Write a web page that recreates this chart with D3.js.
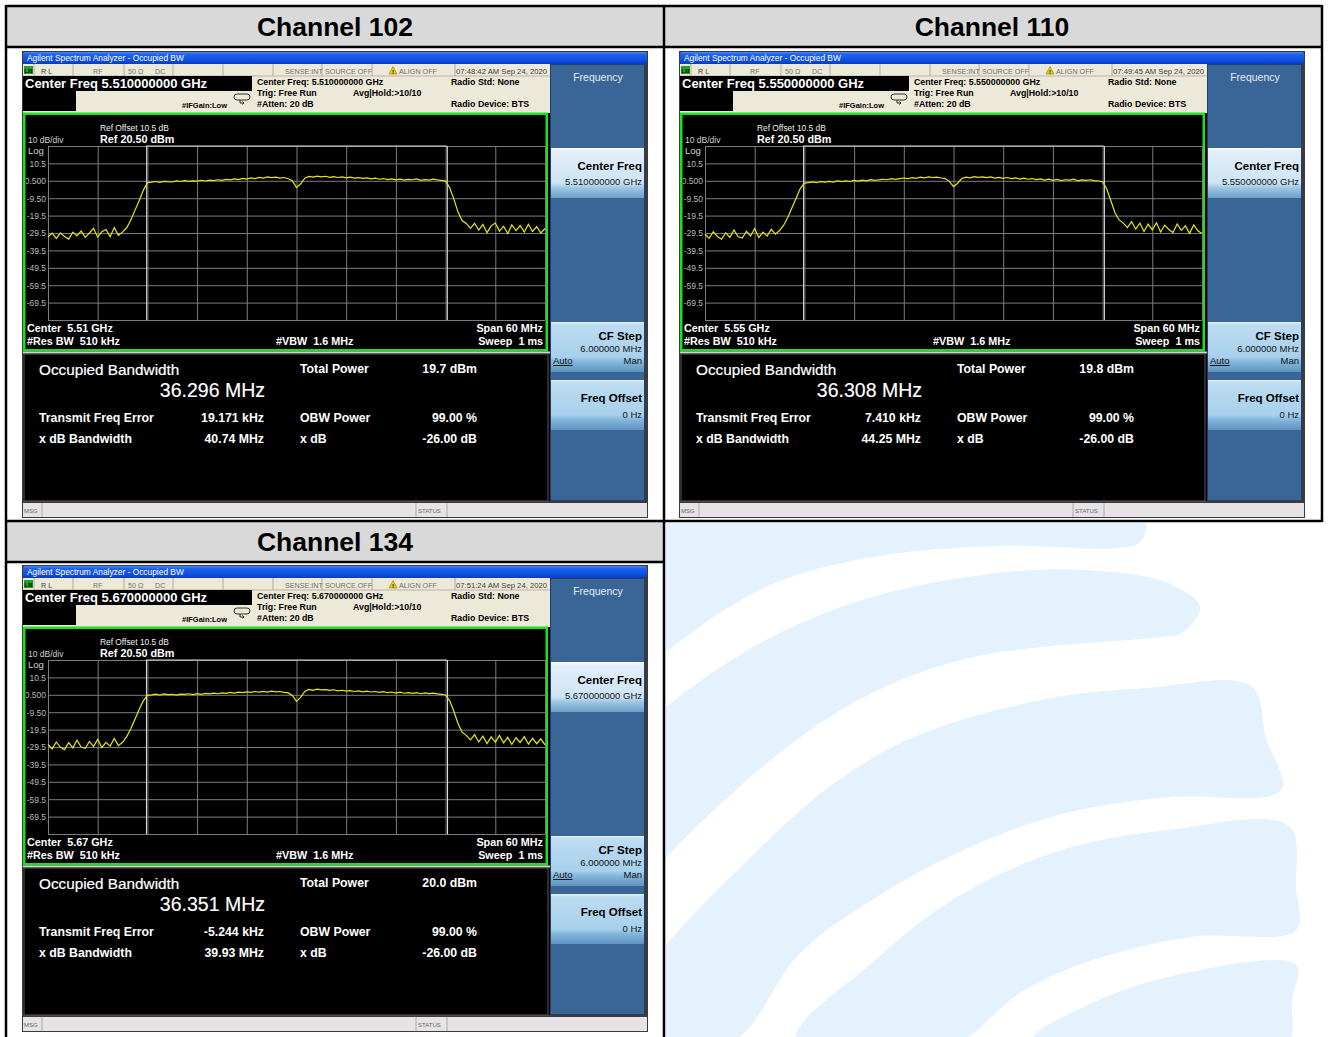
<!DOCTYPE html>
<html>
<head>
<meta charset="utf-8">
<script src="https://cdn.jsdelivr.net/npm/d3@7"></script>
<style>
  body { margin: 0; background: #fff; }
  svg text { font-family: "Liberation Sans", Arial, sans-serif; white-space: pre; }
</style>
</head>
<body>
<div id="page"></div>
<script>
// ---- values ----
const channelTitles = ["Channel 102", "Channel 110", "Channel 134"];
const centerFreqLong = ["5.510000000 GHz", "5.550000000 GHz", "5.670000000 GHz"];
const centerFreqShort = ["5.51 GHz", "5.55 GHz", "5.67 GHz"];
const timestamps = ["07:48:42 AM Sep 24, 2020", "07:49:45 AM Sep 24, 2020", "07:51:24 AM Sep 24, 2020"];
const occupiedBw = ["36.296 MHz", "36.308 MHz", "36.351 MHz"];
const obwMHz = [36.296, 36.308, 36.351];
const totalPower = ["19.7 dBm", "19.8 dBm", "20.0 dBm"];
const freqError = ["19.171 kHz", "7.410 kHz", "-5.244 kHz"];
const xdbBandwidth = ["40.74 MHz", "44.25 MHz", "39.93 MHz"];
const obwPower = ["99.00 %", "99.00 %", "99.00 %"];
const xdB = ["-26.00 dB", "-26.00 dB", "-26.00 dB"];

// y axis: ref 20.5 dBm, 10 dB/div
const refLevel = 20.5;
const yLabelValues = [10.5, 0.5, -9.5, -19.5, -29.5, -39.5, -49.5, -59.5, -69.5];
const yLabelText = ["10.5", "0.500", "-9.50", "-19.5", "-29.5", "-39.5", "-49.5", "-59.5", "-69.5"];

// sweep points: offset from center, -30..+30 MHz every 0.5 MHz
const sweepMHz = d3.range(-30, 30.001, 0.5);

const trace102 = [
  -31.8,-29.6,-32.6,-29.4,-31.5,-33.0,-29.0,-31.2,-28.4,-32.0,-29.5,-26.8,-31.9,-28.7,-27.5,-31.6,-26.4,-30.8,
  -29.0,-26.5,-22.0,-16.5,-11.0,-5.0,-0.6,
  -0.3,0.1,-0.4,0.2,0.0,-0.2,0.4,0.1,0.6,0.2,0.5,0.3,0.8,0.4,0.9,0.6,1.1,0.7,1.3,1.0,1.6,1.2,1.9,1.5,
  2.2,1.8,2.5,2.1,2.7,2.3,2.6,2.0,2.4,1.7,
  0.6,-3.4,-1.2,2.0,
  3.0,2.6,3.2,2.8,3.1,2.5,2.9,2.4,2.7,2.2,2.6,2.0,2.3,1.9,2.2,1.6,2.0,
  1.4,1.8,1.2,1.6,1.0,1.5,0.9,1.3,1.1,1.6,0.8,1.2,0.9,1.4,1.0,0.7,
  0.3,-3.5,-10.0,-17.5,-22.5,-24.0,
  -26.8,-23.9,-27.9,-24.6,-29.3,-25.4,-23.8,-28.4,-25.6,-29.8,-24.9,-28.1,-25.2,-29.0,-24.5,-28.6,-25.8,-29.5,-26.9
];
const trace110 = [
  -30.2,-32.6,-28.8,-31.5,-33.1,-29.3,-32.0,-27.8,-31.7,-32.4,-28.5,-31.2,-26.9,-32.1,-29.0,-31.3,-27.4,-30.2,
  -28.1,-25.0,-20.5,-15.0,-9.5,-4.0,-0.8,
  -0.5,-0.1,-0.6,0.0,-0.3,0.2,-0.2,0.4,0.0,0.5,0.1,0.7,0.3,0.9,0.5,1.2,0.8,1.0,1.4,1.1,1.7,1.3,1.8,2.1,
  1.7,2.3,1.9,2.6,2.2,2.8,2.4,2.6,2.1,1.8,
  0.2,-2.8,-0.9,1.8,
  2.6,2.2,2.9,2.5,2.8,2.3,2.7,2.1,2.5,1.9,2.4,1.8,2.2,1.5,2.0,1.4,1.8,
  1.2,1.6,0.9,1.4,0.8,1.3,0.6,1.1,0.9,1.4,0.5,1.0,0.7,1.1,0.6,0.4,
  0.0,-4.2,-11.0,-18.0,-22.0,-23.8,
  -26.4,-23.0,-27.3,-23.8,-28.6,-24.4,-27.7,-23.6,-28.9,-25.0,-27.5,-29.2,-24.3,-28.0,-25.4,-29.7,-24.9,-28.2,-29.8
];
const trace134 = [
  -28.0,-30.6,-26.6,-29.7,-31.0,-27.0,-30.0,-25.6,-29.5,-30.3,-26.3,-29.2,-25.1,-29.8,-26.8,-29.0,-24.6,-28.7,
  -26.8,-23.5,-19.0,-13.5,-8.0,-3.0,0.2,
  0.5,0.9,0.4,1.0,0.6,0.8,0.3,0.9,0.7,1.1,0.6,1.2,0.8,1.3,1.0,1.5,1.1,1.6,1.3,1.9,1.5,2.0,1.7,2.2,
  1.9,2.4,2.0,2.5,2.1,2.6,2.2,2.4,1.9,1.6,
  0.1,-3.3,-1.0,2.4,
  3.6,3.1,3.8,3.3,3.5,3.0,3.4,2.8,3.1,2.6,2.9,2.4,2.8,2.2,2.6,2.1,2.4,
  1.9,2.3,1.7,2.1,1.5,2.0,1.4,1.8,1.3,1.7,1.1,1.6,1.2,1.5,1.0,0.8,
  0.4,-3.0,-9.0,-16.0,-21.0,-22.8,
  -25.4,-22.4,-26.6,-23.3,-27.5,-23.7,-26.7,-22.8,-27.1,-24.0,-28.0,-24.2,-26.9,-23.6,-27.8,-24.5,-27.6,-24.8,-28.3
];
const traces = [trace102, trace110, trace134];

// ---- page ----
const W = 1328, H = 1037;
const svg = d3.select("#page").append("svg").attr("width", W).attr("height", H);
const defs = svg.append("defs");

function vGrad(id, stops) {
  const lg = defs.append("linearGradient").attr("id", id)
    .attr("x1", 0).attr("y1", 0).attr("x2", 0).attr("y2", 1);
  stops.forEach(([o, c]) => lg.append("stop").attr("offset", o).attr("stop-color", c));
}
vGrad("titleBar", [[0, "#4a88f7"], [0.2, "#1f62ef"], [0.8, "#0b4ad8"], [1, "#083cb0"]]);
vGrad("keyOn", [[0, "#ffffff"], [0.06, "#e2eff9"], [0.7, "#cde4f4"], [0.8, "#9cc6e6"], [1, "#6f9ec6"]]);
vGrad("keyOff", [[0, "#e4f1fa"], [0.06, "#bcdcf1"], [0.7, "#a7d0ec"], [0.8, "#82b6dc"], [1, "#5f92bf"]]);

function txt(g, x, y, s, o = {}) {
  const t = g.append("text").attr("x", x).attr("y", y).text(s)
    .attr("font-size", o.size || 10)
    .attr("font-weight", o.bold ? "bold" : "normal")
    .attr("fill", o.fill || "#000")
    .attr("text-anchor", o.anchor || "start")
    .attr("text-decoration", o.underline ? "underline" : null);
  if (o.thick) t.attr("stroke", o.fill || "#000").attr("stroke-width", o.thick);
  return t;
}

// background watermark (bottom-right empty area)
defs.append("clipPath").attr("id", "wmClip").append("rect")
  .attr("x", 666).attr("y", 523).attr("width", W - 666).attr("height", H - 523);
const wm = svg.append("g").attr("clip-path", "url(#wmClip)").attr("fill", "#e3f2fc");
const band = d3.line().curve(d3.curveCatmullRomClosed.alpha(0.5));
const wmBands = [
  [[600,500],[1130,500],[1146,525],[1140,542],[1118,548],[999,546],[872,557],[766,587],[666,652],[600,715]],
  [[600,770],[666,707],[766,640],[872,597],[999,573],[1084,570],[1168,583],[1200,607],[1183,632],[1160,637],[1041,647],[957,661],[872,693],[787,747],[666,858],[600,940]],
  [[630,995],[666,945],[745,863],[829,787],[914,737],[1041,700],[1147,688],[1251,686],[1266,738],[1281,790],[1168,797],[1062,814],[957,853],[872,900],[800,953],[736,1040],[660,1060]],
  [[796,1040],[872,963],[957,897],[1062,850],[1168,830],[1289,826],[1296,887],[1296,930],[1190,937],[1084,963],[1020,993],[965,1040],[900,1080]],
  [[1033,1040],[1084,1007],[1168,977],[1296,965],[1292,1000],[1287,1045],[1150,1080]]
];
wmBands.forEach(b => wm.append("path").attr("d", band(b)));

// table
svg.append("rect").attr("x", 6).attr("y", 6).attr("width", 1316).attr("height", 41).attr("fill", "#d9d9d9");
svg.append("rect").attr("x", 6).attr("y", 521).attr("width", 658).attr("height", 41).attr("fill", "#d9d9d9");
const tableLines = [[6,6,1322,6],[6,47,1322,47],[6,521,1322,521],[6,562,664,562],[6,5,6,1037],[664,5,664,1037],[1322,5,1322,522]];
svg.append("g").selectAll("line").data(tableLines).join("line")
  .attr("x1", d => d[0]).attr("y1", d => d[1]).attr("x2", d => d[2]).attr("y2", d => d[3])
  .attr("stroke", "#000").attr("stroke-width", 2.5);

const headerPos = [[335, 36], [992, 36], [335, 551]];
channelTitles.forEach((t, i) => txt(svg, headerPos[i][0], headerPos[i][1], t,
  { size: 26.5, bold: true, anchor: "middle" }));

// one analyzer screen
function drawAnalyzer(k, ox, oy) {
  const g = svg.append("g").attr("transform", `translate(${ox},${oy})`);
  g.append("rect").attr("width", 626).attr("height", 467).attr("fill", "#3b3b3b");

  // title bar
  g.append("rect").attr("x", 1).attr("y", 1).attr("width", 624).attr("height", 12).attr("rx", 2)
    .attr("fill", "url(#titleBar)");
  txt(g, 5, 10, "Agilent Spectrum Analyzer - Occupied BW", { size: 8.4, fill: "#fff" });

  // status row and setup info
  g.append("rect").attr("x", 1).attr("y", 13).attr("width", 527).attr("height", 49).attr("fill", "#ece9d8");
  g.append("line").attr("x1", 1).attr("x2", 528).attr("y1", 25).attr("y2", 25).attr("stroke", "#b8b5a8");
  g.selectAll(".sep").data([12, 51, 102, 151, 201, 251, 300, 350, 433]).join("line")
    .attr("x1", d => d).attr("x2", d => d).attr("y1", 13).attr("y2", 25)
    .attr("stroke", "#b0ada0");
  g.append("rect").attr("x", 2).attr("y", 15).attr("width", 9).attr("height", 8).attr("fill", "#22a022");
  txt(g, 6.5, 21.5, "LXI", { size: 5, bold: true, anchor: "middle" });
  const st = { size: 7.2, fill: "#707070" };
  txt(g, 19, 23, "R L", { size: 7.2, fill: "#404040" });
  txt(g, 71, 23, "RF", st);
  txt(g, 106, 23, "50 Ω", st);
  txt(g, 133, 23, "DC", st);
  txt(g, 263, 23, "SENSE:INT", st);
  txt(g, 303, 23, "SOURCE OFF", st);
  g.append("path").attr("d", "M367,23 L371,15.5 L375,23 Z").attr("fill", "#f0d000").attr("stroke", "#806000").attr("stroke-width", 0.5);
  txt(g, 371, 22.5, "!", { size: 6, bold: true, anchor: "middle" });
  txt(g, 377, 23, "ALIGN OFF", st);
  txt(g, 434, 23, timestamps[k], { size: 7.7, fill: "#404040" });

  g.append("rect").attr("x", 1).attr("y", 25).attr("width", 229).attr("height", 15).attr("fill", "#000");
  g.append("rect").attr("x", 1).attr("y", 40).attr("width", 53).attr("height", 20).attr("fill", "#000");
  txt(g, 3, 37, "Center Freq " + centerFreqLong[k], { size: 13, bold: true, fill: "#fff" });
  txt(g, 160, 57, "#IFGain:Low", { size: 7.5, bold: true });
  g.append("rect").attr("x", 212).attr("y", 43).attr("width", 16).attr("height", 6).attr("rx", 3)
    .attr("fill", "none").attr("stroke", "#000").attr("stroke-width", 0.8);
  g.append("path").attr("d", "M218,49 L218,52 L222,52 M220.5,50.5 L222,52 L220.5,53.5").attr("fill", "none")
    .attr("stroke", "#000").attr("stroke-width", 0.8);
  const inf = { size: 8.8, bold: true };
  txt(g, 235, 34, "Center Freq: " + centerFreqLong[k], inf);
  txt(g, 235, 45, "Trig: Free Run", inf);
  txt(g, 235, 56, "#Atten: 20 dB", inf);
  txt(g, 331, 45, "Avg|Hold:>10/10", inf);
  txt(g, 429, 34, "Radio Std: None", inf);
  txt(g, 429, 56, "Radio Device: BTS", inf);

  // graph window
  g.append("rect").attr("x", 1).attr("y", 62).attr("width", 527).attr("height", 388).attr("fill", "#000");
  g.append("rect").attr("x", 2.25).attr("y", 62.75).attr("width", 522.5).attr("height", 236.5)
    .attr("fill", "#000").attr("stroke", "#1fe01f").attr("stroke-width", 2.5);
  g.append("rect").attr("x", 1).attr("y", 300.5).attr("width", 527).attr("height", 2).attr("fill", "#d4d4d4");

  const gx0 = 26, gx1 = 523, gy0 = 95, gy1 = 269;
  const x = d3.scaleLinear().domain([-30, 30]).range([gx0, gx1]);
  const y = d3.scaleLinear().domain([refLevel - 100, refLevel]).range([gy1, gy0]);

  txt(g, 78, 80, "Ref Offset 10.5 dB", { size: 8.4, fill: "#f0f0f0" });
  txt(g, 78, 92, "Ref 20.50 dBm", { size: 10.8, bold: true, fill: "#fff" });
  txt(g, 6, 92, "10 dB/div", { size: 8.5, fill: "#d0d0d0" });
  txt(g, 6, 102.5, "Log", { size: 9.5, fill: "#d0d0d0" });

  const grid = g.append("g");
  grid.append("g").attr("transform", `translate(0,${gy1})`)
    .call(d3.axisBottom(x).tickValues(d3.range(-30, 30.1, 6)).tickSize(-(gy1 - gy0)).tickFormat(""));
  grid.append("g").attr("transform", `translate(${gx0},0)`)
    .call(d3.axisLeft(y).tickValues(d3.range(refLevel - 100, refLevel + 0.1, 10)).tickSize(-(gx1 - gx0)).tickFormat(""));
  grid.selectAll(".domain").remove();
  grid.selectAll(".tick line").attr("stroke", "#7c7c7c").attr("stroke-width", 1);

  // y labels, clipped at the green frame
  defs.append("clipPath").attr("id", "lab" + k).append("rect")
    .attr("x", 4).attr("y", gy0).attr("width", gx0 - 4).attr("height", gy1 - gy0);
  const yl = g.append("g").attr("clip-path", `url(#lab${k})`).append("g")
    .attr("transform", `translate(${gx0},0)`)
    .call(d3.axisLeft(y).tickValues(yLabelValues).tickSize(0).tickPadding(2)
      .tickFormat((d, i) => yLabelText[i]));
  yl.select(".domain").remove();
  yl.selectAll("text").attr("fill", "#b8b8b8").attr("font-size", 8.5)
    .attr("font-family", "Liberation Sans, Arial, sans-serif").attr("dy", "0.34em");

  // OBW markers
  const half = obwMHz[k] / 2;
  g.append("line").attr("x1", x(-half)).attr("x2", x(half)).attr("y1", gy0).attr("y2", gy0)
    .attr("stroke", "#d8d8d8");
  g.selectAll(".obw").data([-half, half]).join("line")
    .attr("x1", d => x(d) + 0.5).attr("x2", d => x(d) + 0.5).attr("y1", gy0).attr("y2", gy1)
    .attr("stroke", "#e6e6e6").attr("stroke-width", 1);

  // trace
  const line = d3.line().x((d, i) => x(sweepMHz[i])).y(d => y(d));
  g.append("path").datum(traces[k]).attr("d", line)
    .attr("fill", "none").attr("stroke", "#e8e810").attr("stroke-width", 1.2);

  const sp = "\u00a0\u00a0";
  const lb = { size: 10.8, bold: true, fill: "#fff" };
  txt(g, 5, 281, "Center" + sp + centerFreqShort[k], lb);
  txt(g, 5, 294, "#Res BW" + sp + "510 kHz", lb);
  txt(g, 254, 294, "#VBW" + sp + "1.6 MHz", lb);
  txt(g, 521, 281, "Span 60 MHz", { ...lb, anchor: "end" });
  txt(g, 521, 294, "Sweep" + sp + "1 ms", { ...lb, anchor: "end" });

  // result panel
  g.append("rect").attr("x", 2).attr("y", 303).attr("width", 524).attr("height", 147)
    .attr("fill", "#000").attr("stroke", "#5a5a5a");
  const w = "#fff";
  txt(g, 17, 324, "Occupied Bandwidth", { size: 15.3, fill: w, thick: 0.2 });
  txt(g, 243, 346, occupiedBw[k], { size: 19.5, fill: w, thick: 0.15, anchor: "end" });
  const rb = { size: 12.3, bold: true, fill: w };
  txt(g, 278, 322, "Total Power", rb);
  txt(g, 455, 322, totalPower[k], { ...rb, anchor: "end" });
  txt(g, 17, 371, "Transmit Freq Error", rb);
  txt(g, 242, 371, freqError[k], { ...rb, anchor: "end" });
  txt(g, 278, 371, "OBW Power", rb);
  txt(g, 455, 371, obwPower[k], { ...rb, anchor: "end" });
  txt(g, 17, 392, "x dB Bandwidth", rb);
  txt(g, 242, 392, xdbBandwidth[k], { ...rb, anchor: "end" });
  txt(g, 278, 392, "x dB", rb);
  txt(g, 455, 392, xdB[k], { ...rb, anchor: "end" });

  // softkeys
  g.append("rect").attr("x", 528.5).attr("y", 13.5).attr("width", 94).attr("height", 436)
    .attr("fill", "#3a6597").attr("stroke", "#22406a");
  txt(g, 576, 30, "Frequency", { size: 10.5, fill: "#e4ecf6", anchor: "middle" });
  const keys = [[97, "url(#keyOn)"], [271, "url(#keyOff)"], [329, "url(#keyOff)"]];
  keys.forEach(([ky, f]) => g.append("rect").attr("x", 529).attr("y", ky).attr("width", 93).attr("height", 50).attr("fill", f));
  const kb = { size: 11.5, bold: true, anchor: "end" };
  const kv = { size: 9.5, anchor: "end", fill: "#111" };
  txt(g, 620, 119, "Center Freq", kb);
  txt(g, 620, 134, centerFreqLong[k], kv);
  txt(g, 620, 289, "CF Step", kb);
  txt(g, 620, 301, "6.000000 MHz", kv);
  txt(g, 531, 313, "Auto", { size: 9.5, underline: true, fill: "#111" });
  txt(g, 620, 313, "Man", kv);
  txt(g, 620, 351, "Freq Offset", kb);
  txt(g, 620, 367, "0 Hz", kv);

  // message bar
  g.append("rect").attr("x", 1).attr("y", 452).attr("width", 624).attr("height", 14).attr("fill", "#e6e2e6");
  g.selectAll(".msep").data([20, 394, 425]).join("line")
    .attr("x1", d => d).attr("x2", d => d).attr("y1", 452).attr("y2", 466).attr("stroke", "#b0aab0");
  txt(g, 2, 462, "MSG", { size: 6, fill: "#666" });
  txt(g, 396, 462, "STATUS", { size: 6, fill: "#666" });
}

const screens = [[22, 51], [679, 51], [22, 565]];
screens.forEach((p, k) => drawAnalyzer(k, p[0], p[1]));
</script>
</body>
</html>
